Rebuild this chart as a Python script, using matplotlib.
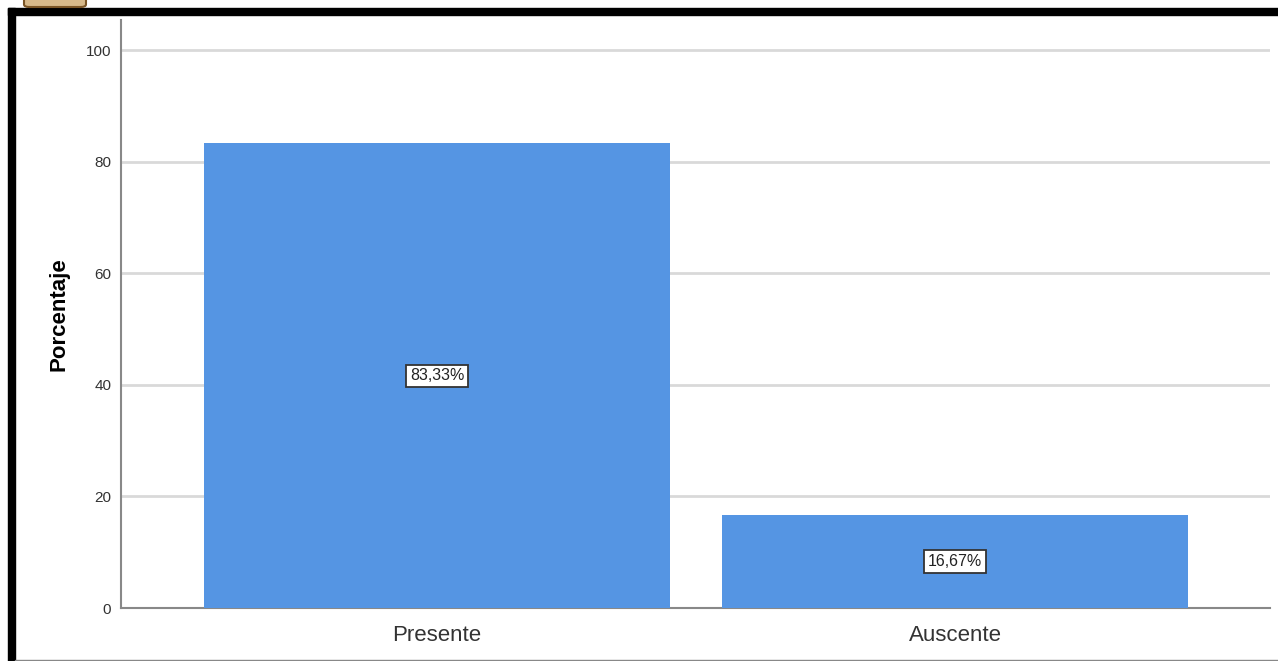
import matplotlib
matplotlib.use("Agg")
import matplotlib.pyplot as plt
from matplotlib.patches import Rectangle, FancyBboxPatch

plt.rcParams['font.family'] = ['Liberation Sans', 'DejaVu Sans']

categories = ['Presente', 'Auscente']
percentages = [83.33, 16.67]
labels = ['83,33%', '16,67%']
yticks = [0, 20, 40, 60, 80, 100]

fig = plt.figure(figsize=(12.78, 6.61), dpi=100)
W, H = 1278, 661

# marco negro (recorte de la captura)
fig.patches.append(Rectangle((8 / W, 0), 7 / W, 1 - 8 / H, transform=fig.transFigure,
                             color='black', zorder=0))
fig.patches.append(Rectangle((8 / W, 1 - 15 / H), 1 - 8 / W, 7 / H, transform=fig.transFigure,
                             color='black', zorder=0))
fig.patches.append(Rectangle((15 / W, 0), 1 - 15 / W, 1.5 / H, transform=fig.transFigure,
                             color='#888888', zorder=0))
# pedazo del logo arriba
fig.patches.append(FancyBboxPatch((24 / W, 1 - 7 / H), 62 / W, 12 / H, transform=fig.transFigure,
                                  boxstyle='round,pad=0,rounding_size=0.004', facecolor='#d7b98a',
                                  edgecolor='#7a5526', linewidth=1.5, zorder=0))

ax = fig.add_axes([121 / W, 1 - 608 / H, (1270 - 121) / W, (608 - 20) / H])

x = list(range(len(categories)))
ax.bar(x, percentages, width=0.9, color='#5595e3', zorder=3)

for xi, v, lab in zip(x, percentages, labels):
    ax.text(xi, v / 2, lab, ha='center', va='center', fontsize=11.5, color='#222222', zorder=4,
            bbox=dict(boxstyle='square,pad=0.22', facecolor='white', edgecolor='#333333', linewidth=1.3))

ax.set_xlim(-0.61, 1.608)
ax.set_ylim(0, 105.4)
ax.set_yticks(yticks)
ax.set_yticklabels([str(t) for t in yticks], fontsize=11, color='#333333')
ax.set_xticks(x)
ax.set_xticklabels(categories, fontsize=16, color='#333333')
ax.tick_params(axis='both', length=0)
ax.tick_params(axis='y', pad=7)
ax.tick_params(axis='x', pad=12)

ax.yaxis.grid(True, color='#d9d9d9', linewidth=2, zorder=0)
ax.set_axisbelow(True)
for s in ['top', 'right']:
    ax.spines[s].set_visible(False)
for s in ['left', 'bottom']:
    ax.spines[s].set_color('#888888')
    ax.spines[s].set_linewidth(1.5)

ax.set_ylabel('Porcentaje', fontsize=16, fontweight='bold', labelpad=12)

fig.savefig('out.png', dpi=100)
